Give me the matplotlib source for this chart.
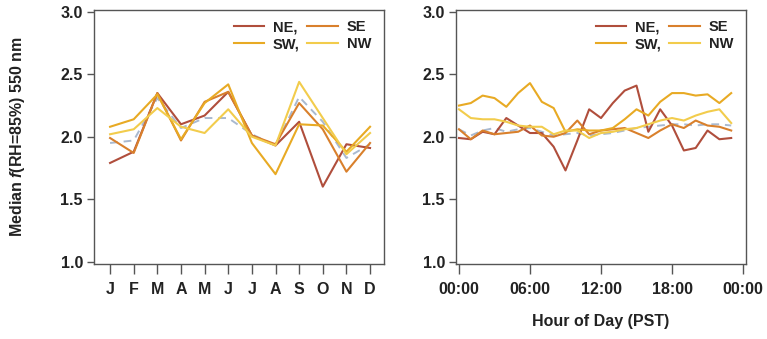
import matplotlib
matplotlib.use("Agg")
import matplotlib.pyplot as plt
import numpy as np

plt.rcParams['font.family'] = ['Liberation Sans', 'DejaVu Sans']
plt.rcParams['font.weight'] = 'bold'
plt.rcParams['mathtext.fontset'] = 'custom'
plt.rcParams['mathtext.it'] = 'Liberation Sans:italic:bold'
plt.rcParams['mathtext.rm'] = 'Liberation Sans:bold'

months = ["J", "F", "M", "A", "M", "J", "J", "A", "S", "O", "N", "D"]
ne_m = [1.79, 1.88, 2.35, 2.10, 2.17, 2.36, 2.01, 1.93, 2.12, 1.60, 1.94, 1.91]
se_m = [1.99, 1.87, 2.35, 1.97, 2.28, 2.36, 2.01, 1.94, 2.27, 2.06, 1.72, 1.95]
sw_m = [2.08, 2.14, 2.34, 1.98, 2.27, 2.42, 1.95, 1.70, 2.10, 2.09, 1.88, 2.08]
nw_m = [2.02, 2.06, 2.23, 2.08, 2.03, 2.22, 2.00, 1.93, 2.44, 2.15, 1.86, 2.03]
avg_m = [1.95, 1.97, 2.31, 2.07, 2.15, 2.15, 2.02, 1.93, 2.32, 2.12, 1.83, 1.94]

hours = list(range(24))
ne_h = [1.99, 1.98, 2.04, 2.02, 2.15, 2.09, 2.03, 2.03, 1.92, 1.73, 1.97, 2.22,
        2.15, 2.27, 2.37, 2.41, 2.04, 2.22, 2.09, 1.89, 1.91, 2.05, 1.98, 1.99]
se_h = [2.06, 1.98, 2.05, 2.02, 2.03, 2.04, 2.09, 2.01, 2.00, 2.03, 2.13, 2.02,
        2.05, 2.06, 2.07, 2.03, 1.99, 2.05, 2.10, 2.07, 2.13, 2.09, 2.08, 2.05]
sw_h = [2.25, 2.27, 2.33, 2.31, 2.24, 2.35, 2.43, 2.28, 2.23, 2.04, 2.06, 2.05,
        2.05, 2.07, 2.14, 2.22, 2.17, 2.28, 2.35, 2.35, 2.33, 2.34, 2.27, 2.35]
nw_h = [2.22, 2.15, 2.14, 2.14, 2.12, 2.09, 2.08, 2.08, 2.02, 2.05, 2.05, 1.99,
        2.03, 2.04, 2.06, 2.07, 2.10, 2.13, 2.15, 2.13, 2.17, 2.20, 2.22, 2.11]
avg_h = [2.06, 2.01, 2.05, 2.07, 2.04, 2.06, 2.07, 2.04, 2.01, 2.02, 2.03, 2.01,
         2.02, 2.03, 2.05, 2.07, 2.08, 2.09, 2.10, 2.10, 2.09, 2.10, 2.10, 2.09]
hour_ticks = [0, 6, 12, 18, 24]
hour_labels = ["00:00", "06:00", "12:00", "18:00", "00:00"]

c_ne = '#b04e3c'
c_se = '#d9802c'
c_sw = '#e8aa24'
c_nw = '#f2cc4c'
c_avg = '#a9b9cf'
spine_c = '#555555'
txt_c = '#222222'
FS = 11.5

W, H = 767, 339
fig = plt.figure(figsize=(W / 100, H / 100), dpi=100)
ax1 = fig.add_axes([94 / W, 75 / H, 290 / W, 254 / H])
ax2 = fig.add_axes([456 / W, 75 / H, 290 / W, 254 / H])

def style(ax):
    for s in ax.spines.values():
        s.set_color(spine_c)
        s.set_linewidth(1.0)
    ax.tick_params(direction='out', length=5, width=1.0, color=spine_c,
                   labelsize=FS, labelcolor=txt_c, pad=3)
    ax.set_ylim(0.98, 3.016)
    ax.set_yticks([1.0, 1.5, 2.0, 2.5, 3.0])
    ax.set_yticklabels(["1.0", "1.5", "2.0", "2.5", "3.0"], fontweight='bold')

def draw(ax, x, ne, se, sw, nw, avg):
    ax.plot(x, avg, color=c_avg, lw=1.4, dashes=(4, 3), zorder=2)
    l1, = ax.plot(x, ne, color=c_ne, lw=1.5, label='NE,', zorder=3)
    l2, = ax.plot(x, se, color=c_se, lw=1.5, label='SE', zorder=3)
    l3, = ax.plot(x, sw, color=c_sw, lw=1.5, label='SW,', zorder=3)
    l4, = ax.plot(x, nw, color=c_nw, lw=1.5, label='NW', zorder=3)
    leg = ax.legend(handles=[l1, l3, l2, l4], ncol=2, loc='upper right',
                    frameon=False, fontsize=10.5, handlelength=2.1,
                    handletextpad=0.6, columnspacing=0.5, labelspacing=0.2,
                    borderaxespad=0.3, bbox_to_anchor=(0.99, 1.0))
    for t in leg.get_texts():
        t.set_fontweight('bold')
        t.set_color(txt_c)

x_m = np.arange(len(months))
style(ax1)
draw(ax1, x_m, ne_m, se_m, sw_m, nw_m, avg_m)
ax1.set_xlim(-0.68, 11.59)
ax1.set_xticks(x_m)
ax1.set_xticklabels(months, fontweight='bold')
ax1.tick_params(axis='x', length=7, pad=6)
ax1.set_ylabel(r"Median $f$(RH=85%) 550 nm", fontsize=FS, fontweight='bold',
               color=txt_c, labelpad=24)

style(ax2)
draw(ax2, hours, ne_h, se_h, sw_h, nw_h, avg_h)
ax2.set_xlim(-0.25, 24.25)
ax2.set_xticks(hour_ticks)
ax2.set_xticklabels(hour_labels, fontweight='bold')
ax2.tick_params(axis='x', length=7, pad=6)
ax2.set_xlabel("Hour of Day (PST)", fontsize=FS, fontweight='bold',
               color=txt_c, labelpad=12)

fig.savefig("out.png", dpi=100)
